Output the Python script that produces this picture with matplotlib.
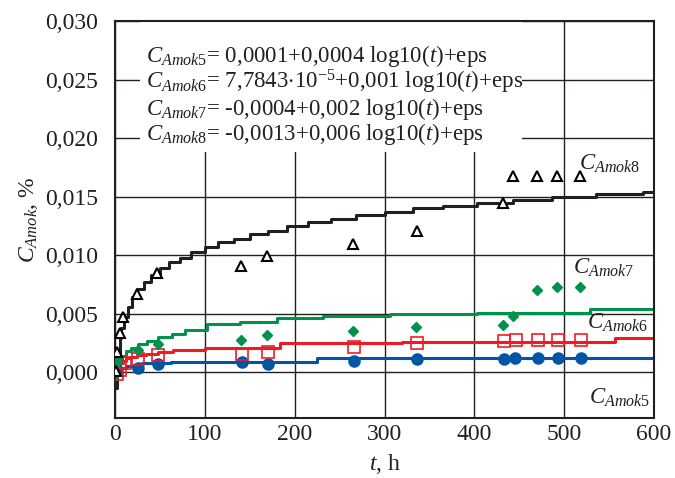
import numpy as np
import matplotlib.pyplot as plt
from matplotlib.patches import Rectangle

plt.rcParams['font.family'] = ['Liberation Serif', 'DejaVu Serif']
plt.rcParams['mathtext.fontset'] = 'custom'
plt.rcParams['mathtext.rm'] = 'Liberation Serif'
plt.rcParams['mathtext.it'] = 'Liberation Serif:italic'

#dados medidos (pontos)
t_tri = [1, 2, 6, 9, 25, 47, 140, 169, 265, 336, 432, 443, 470, 492, 518]
c_tri = [0.0001, 0.0017, 0.0034, 0.0047, 0.0067, 0.0085, 0.0091, 0.0099,
         0.0110, 0.0121, 0.0145, 0.0168, 0.0168, 0.0168, 0.0168]
t_dia = [1, 2, 26, 48, 140, 169, 265, 335, 432, 443, 470, 492, 518]
c_dia = [0.0008, 0.0011, 0.0019, 0.0024, 0.0028, 0.0032, 0.0035, 0.0039,
         0.0040, 0.0048, 0.0070, 0.0073, 0.0073]
t_sq = [2, 5, 11, 26, 48, 141, 170, 266, 336, 433, 446, 471, 493, 519]
c_sq = [-0.0001, 0.0002, 0.0008, 0.0011, 0.0015, 0.0016, 0.0017, 0.0022,
        0.0025, 0.0027, 0.0028, 0.0028, 0.0028, 0.0028]
t_ci = [2, 26, 48, 141, 170, 266, 336, 433, 445, 471, 493, 519]
c_ci = [0.0002, 0.0004, 0.0007, 0.0009, 0.0007, 0.0010, 0.0011, 0.0011,
        0.0012, 0.0012, 0.0012, 0.0012]

#curvas (em degraus)
t_k8 = [1, 2, 3, 5, 7, 10, 14, 19, 25, 32, 40, 50, 60, 72, 85, 100, 115,
        132, 150, 170, 192, 215, 240, 268, 300, 332, 365, 403, 443, 487,
        535, 588, 600]
c_k8 = [-0.0013, 0.0005, 0.0016, 0.0029, 0.0038, 0.0047, 0.0056, 0.0064,
        0.0071, 0.0077, 0.0083, 0.0089, 0.0094, 0.0098, 0.0103, 0.0107,
        0.0111, 0.0114, 0.0118, 0.0121, 0.0125, 0.0128, 0.0131, 0.0134,
        0.0137, 0.0140, 0.0142, 0.0145, 0.0147, 0.0150, 0.0152, 0.0154,
        0.0154]
t_k7 = [1, 2, 3, 5, 8, 12, 18, 26, 36, 48, 63, 78, 102, 139, 180, 232,
        306, 403, 529, 600]
c_k7 = [-0.0004, 0.0002, 0.0005, 0.0010, 0.0014, 0.0018, 0.0021, 0.0024,
        0.0027, 0.0030, 0.0033, 0.0036, 0.0041, 0.0043, 0.0046, 0.0048,
        0.0050, 0.0051, 0.0054, 0.0054]
t_k6 = [1, 2, 3, 5, 8, 12, 18, 25, 35, 48, 65, 100, 184, 320, 557, 600]
c_k6 = [0.0001, 0.0004, 0.0006, 0.0008, 0.0010, 0.0012, 0.0013, 0.0015,
        0.0016, 0.0017, 0.0019, 0.0021, 0.0025, 0.0026, 0.0029, 0.0029]
t_k5 = [1, 2, 4, 7, 12, 20, 30, 62, 225, 600]
c_k5 = [0.0001, 0.0002, 0.0003, 0.0004, 0.0005, 0.0006, 0.0008, 0.0009,
        0.0012, 0.0012]

y_ticks = [0.0, 0.005, 0.010, 0.015, 0.020, 0.025, 0.030]
x_ticks = [0, 100, 200, 300, 400, 500, 600]

eq_lines = [r'$C_{\mathit{Amok5}}$= 0,0001+0,0004 log10($t$)+eps',
            r'$C_{\mathit{Amok6}}$= 7,7843$\cdot$10$^{-5}$+0,001 log10($t$)+eps',
            r'$C_{\mathit{Amok7}}$= -0,0004+0,002 log10($t$)+eps',
            r'$C_{\mathit{Amok8}}$= -0,0013+0,006 log10($t$)+eps']
eq_y = [0.02650, 0.02427, 0.02197, 0.01983]

preto = '#231f20'
vermelho = '#ed1c24'
verde = '#00924a'
azul = '#0055a5'

#criar figura
fig, ax = plt.subplots(figsize=(6.75, 4.78), dpi=100)
fig.subplots_adjust(left=0.1704, right=0.9689, top=0.9561, bottom=0.1255)

ax.set_xlim(0, 600)
ax.set_ylim(-0.0039, 0.030)
ax.set_xticks(x_ticks)
ax.set_yticks(y_ticks)
ax.set_xticklabels([str(v) for v in x_ticks])
ax.set_yticklabels([('%.3f' % v).replace('.', ',') for v in y_ticks])
ax.tick_params(length=0, labelsize=17, colors=preto)
ax.tick_params(axis='y', pad=12)
ax.tick_params(axis='x', pad=4)
ax.set_axisbelow(True)
ax.grid(True, color=preto, linewidth=1.0)
for s in ax.spines.values():
    s.set_linewidth(1.5)
    s.set_color(preto)

#fundo branco do texto das equacoes
ax.add_patch(Rectangle((28, 0.0188), 425, 0.0112, facecolor='white',
                       edgecolor='none', zorder=1))

#curvas
ax.plot(t_k8, c_k8, color=preto, linewidth=2.2, drawstyle='steps-post', zorder=2)
ax.plot(t_k7, c_k7, color=verde, linewidth=2.2, drawstyle='steps-post', zorder=2)
ax.plot(t_k6, c_k6, color=vermelho, linewidth=2.2, drawstyle='steps-post', zorder=2)
ax.plot(t_k5, c_k5, color=azul, linewidth=2.2, drawstyle='steps-post', zorder=2)

#pontos
ax.plot(t_ci, c_ci, linestyle='', marker='o', markersize=8,
        color=azul, zorder=3)
ax.plot(t_sq, c_sq, linestyle='', marker='s', markersize=9,
        markerfacecolor='none', markeredgecolor=vermelho,
        markeredgewidth=1.2, zorder=3)
ax.plot(t_dia, c_dia, linestyle='', marker='D', markersize=5.5,
        color=verde, zorder=3)
ax.plot(t_tri, c_tri, linestyle='', marker='^', markersize=6.5,
        markerfacecolor='white', markeredgecolor='black',
        markeredgewidth=1.5, zorder=4)

#equacoes
for txt, yy in zip(eq_lines, eq_y):
    ax.text(34, yy, txt, fontsize=16.5, va='baseline', ha='left',
            color=preto, zorder=5)

#rotulos das curvas
ax.text(517, 0.01726, r'$C_{\mathit{Amok8}}$', fontsize=16.5, va='baseline', color=preto)
ax.text(510, 0.00846, r'$C_{\mathit{Amok7}}$', fontsize=16.5, va='baseline', color=preto)
ax.text(525, 0.00376, r'$C_{\mathit{Amok6}}$', fontsize=16.5, va='baseline', color=preto)
ax.text(528, -0.00265, r'$C_{\mathit{Amok5}}$', fontsize=16.5, va='baseline', color=preto)

#nomes nos eixos
ax.set_xlabel(r'$t$, h', fontsize=17, labelpad=5, color=preto)
ax.set_ylabel(r'$C_{\mathit{Amok}}$, %', fontsize=17, labelpad=4, color=preto)

plt.savefig('out.png', dpi=100)
